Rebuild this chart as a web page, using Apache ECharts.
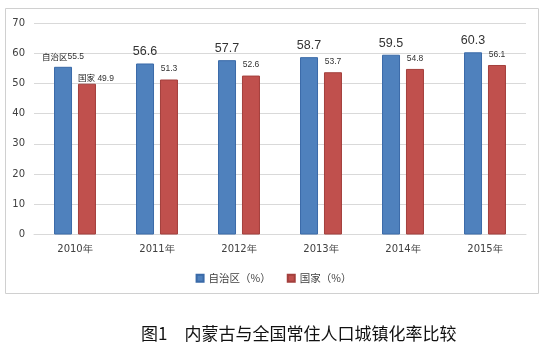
<!DOCTYPE html>
<html>
<head>
<meta charset="utf-8">
<script src="https://cdn.jsdelivr.net/npm/echarts@6/dist/echarts.min.js"></script>
<style>html,body{margin:0;padding:0;background:#fff;}#c{width:547px;height:350px;}</style>
</head>
<body>
<div id="c"></div>
<script>
const categories = ['2010年', '2011年', '2012年', '2013年', '2014年', '2015年'];
const regionValues = [55.5, 56.6, 57.7, 58.7, 59.5, 60.3];
const nationValues = [49.9, 51.3, 52.6, 53.7, 54.8, 56.1];
const seriesNames = ['自治区（%）', '国家（%）'];
const yTicks = [0, 10, 20, 30, 40, 50, 60, 70];
const caption = '图1　内蒙古与全国常住人口城镇化率比较';

const chart = echarts.init(document.getElementById('c'), null, {renderer: 'canvas'});

const regionData = regionValues.map((v, i) => i === 0 ? {
  value: v,
  label: {
    formatter: '{a|自治区}{b|{c}}',
    rich: {
      a: {fontFamily: 'Noto Sans CJK SC', fontSize: 8.5, color: '#222'},
      b: {fontFamily: 'Liberation Sans', fontSize: 8.5, color: '#333'}
    },
    distance: 6
  }
} : v);

const nationData = nationValues.map((v, i) => i === 0 ? {
  value: v,
  label: {
    formatter: '{a|国家} {b|{c}}',
    rich: {
      a: {fontFamily: 'Noto Sans CJK SC', fontSize: 8.5, color: '#222'},
      b: {fontFamily: 'Liberation Sans', fontSize: 8.5, color: '#333'}
    },
    offset: [9, 5]
  }
} : v);

chart.setOption({
  animation: false,
  backgroundColor: '#fff',
  graphic: [{
    type: 'rect',
    shape: {x: 5.5, y: 8.5, width: 533, height: 285},
    style: {fill: 'none', stroke: '#d0d0d0', lineWidth: 1},
    silent: true
  }, {
    type: 'text',
    left: 141,
    top: 325,
    style: {
      text: caption,
      font: '17px "Noto Sans CJK SC"',
      fill: '#111'
    }
  }],
  grid: {left: 34, right: 21, top: 23, bottom: 115.5, containLabel: false},
  legend: {
    data: seriesNames,
    left: 'center',
    top: 268,
    icon: 'rect',
    itemWidth: 7,
    itemHeight: 7,
    itemGap: 16,
    textStyle: {fontFamily: 'Noto Sans CJK SC', fontSize: 10.5, color: '#404040'}
  },
  xAxis: {
    type: 'category',
    data: categories,
    axisLine: {show: true, lineStyle: {color: '#d9d9d9'}},
    axisTick: {show: false},
    axisLabel: {fontFamily: 'DejaVu Sans', fontSize: 10, color: '#404040', margin: 10}
  },
  yAxis: {
    type: 'value',
    min: yTicks[0],
    max: yTicks[yTicks.length - 1],
    interval: 10,
    axisLine: {show: false},
    axisTick: {show: false},
    splitLine: {lineStyle: {color: '#d9d9d9'}},
    axisLabel: {fontFamily: 'DejaVu Sans', fontSize: 10, color: '#404040', margin: 9}
  },
  series: [{
    name: seriesNames[0],
    type: 'bar',
    data: regionData,
    barWidth: 18,
    barGap: '33%',
    itemStyle: {color: '#4F81BD', borderColor: '#3A6AA8', borderWidth: 1},
    label: {
      show: true, position: 'top', distance: 5,
      fontFamily: 'Liberation Sans', fontSize: 12.5, color: '#333'
    }
  }, {
    name: seriesNames[1],
    type: 'bar',
    data: nationData,
    barWidth: 18,
    itemStyle: {color: '#C0504D', borderColor: '#A33F3C', borderWidth: 1},
    label: {
      show: true, position: 'top', distance: 6,
      fontFamily: 'Liberation Sans', fontSize: 8.5, color: '#333'
    }
  }]
});
</script>
</body>
</html>
